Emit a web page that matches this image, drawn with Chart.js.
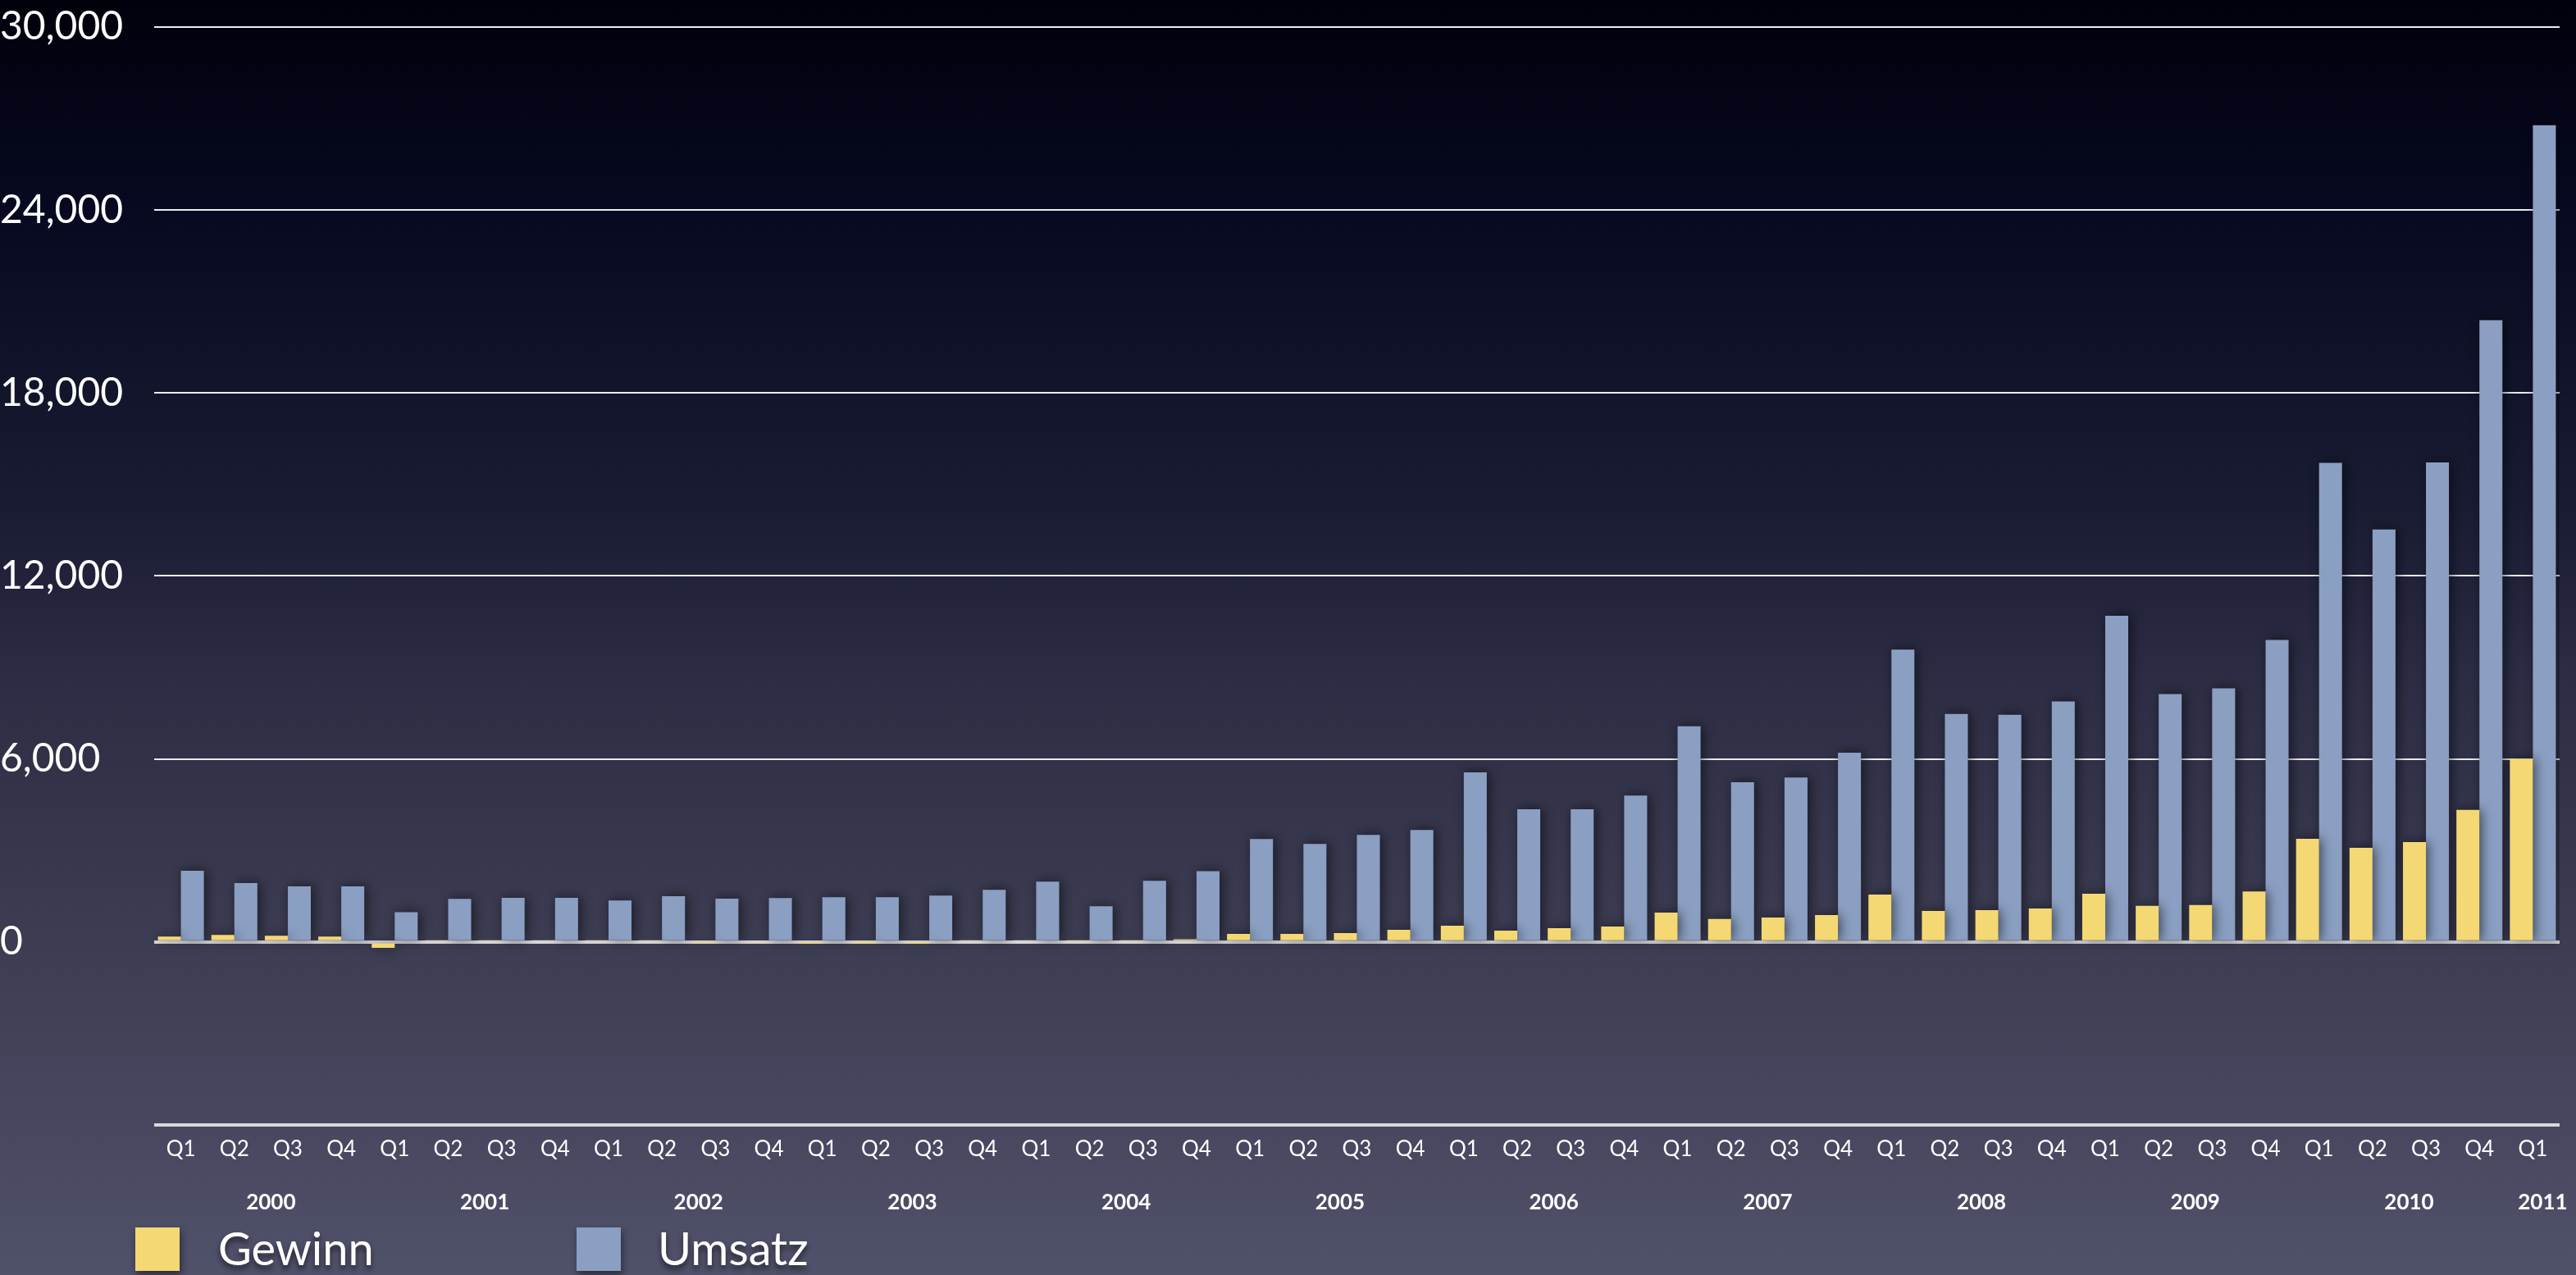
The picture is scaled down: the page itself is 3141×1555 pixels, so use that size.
<!DOCTYPE html>
<html>
<head>
<meta charset="utf-8">
<script src="https://cdn.jsdelivr.net/npm/chart.js@4.4.1/dist/chart.umd.min.js"></script>
<style>
  html, body {
    margin: 0;
    padding: 0;
    overflow: hidden;
  }
  body {
    width: 3141px;
    height: 1555px;
    background: linear-gradient(to bottom, #01010c 0%, #070920 16%, #1a1c33 40%, #2c2c44 53%, #3a3a50 71%, #50516a 100%);
    font-family: Lato, "Open Sans", sans-serif;
    position: relative;
  }
  #wrap {
    position: absolute;
    left: 0;
    top: 0;
    width: 3141px;
    height: 1555px;
  }
  .swatch {
    position: absolute;
    width: 54px;
    height: 53px;
    top: 1497px;
    box-shadow: 2px 5px 8px rgba(0, 0, 0, 0.45);
  }
  .legtext {
    position: absolute;
    top: 1488px;
    font-size: 56px;
    color: #ffffff;
    text-shadow: 0 5px 6px rgba(0, 0, 0, 0.55);
  }
</style>
</head>
<body>
<div id="wrap">
  <canvas id="chart" width="3141" height="1555"></canvas>
</div>
<div class="swatch" style="left:165px;background:#f4d873"></div>
<div class="legtext" style="left:266px">Gewinn</div>
<div class="swatch" style="left:703px;background:#8a9fc2"></div>
<div class="legtext" style="left:802px">Umsatz</div>
<script>
  // quarters 2000 Q1 .. 2011 Q1
  const quarterLabels = [
    "Q1", "Q2", "Q3", "Q4",
    "Q1", "Q2", "Q3", "Q4",
    "Q1", "Q2", "Q3", "Q4",
    "Q1", "Q2", "Q3", "Q4",
    "Q1", "Q2", "Q3", "Q4",
    "Q1", "Q2", "Q3", "Q4",
    "Q1", "Q2", "Q3", "Q4",
    "Q1", "Q2", "Q3", "Q4",
    "Q1", "Q2", "Q3", "Q4",
    "Q1", "Q2", "Q3", "Q4",
    "Q1", "Q2", "Q3", "Q4",
    "Q1",
  ];
  const yearLabels = [
    "2000", "2001", "2002", "2003", "2004", "2005",
    "2006", "2007", "2008", "2009", "2010", "2011",
  ];
  const gewinn = [
    170, 224, 197, 170,
    -200, 35, 40, 55,
    35, 35, -20, -45,
    -25, -15, -15, 40,
    55, 30, 30, 85,
    262, 262, 289, 397,
    532, 370, 451, 505,
    957, 749, 795, 876,
    1551, 1014, 1041, 1095,
    1579, 1178, 1206, 1650,
    3379, 3081, 3270, 4325,
    6001,
  ];
  const umsatz = [
    2333, 1927, 1819, 1819,
    975, 1410, 1441, 1441,
    1355, 1495, 1414, 1437,
    1464, 1460, 1514, 1703,
    1973, 1165, 2000, 2320,
    3371, 3209, 3506, 3668,
    5560, 4344, 4344, 4800,
    7071, 5233, 5390, 6203,
    9585, 7474, 7447, 7885,
    10690, 8123, 8314, 9901,
    15705, 13523, 15723, 20389,
    26778,
  ];
  const yTicks = [0, 6000, 12000, 18000, 24000, 30000];

  const fontFamily = "Lato, 'Open Sans', sans-serif";

  // bold year captions under each group of quarters
  const yearCaptions = {
    id: "yearCaptions",
    afterDraw(chart) {
      const ctx = chart.ctx;
      const xScale = chart.scales.x;
      ctx.save();
      ctx.font = "bold 26px " + fontFamily;
      ctx.fillStyle = "#ffffff";
      ctx.textAlign = "center";
      ctx.textBaseline = "middle";
      yearLabels.forEach((year, y) => {
        let sum = 0;
        let n = 0;
        for (let i = y * 4; i < Math.min(y * 4 + 4, quarterLabels.length); i++) {
          sum += xScale.getPixelForValue(i);
          n++;
        }
        if (n > 0) {
          ctx.fillText(year, sum / n + 12, 1467);
        }
      });
      ctx.restore();
    },
  };

  // soft drop shadow behind the bars
  const barShadow = {
    id: "barShadow",
    beforeDatasetsDraw(chart) {
      const ctx = chart.ctx;
      ctx.save();
      ctx.shadowColor = "rgba(0, 0, 0, 0.55)";
      ctx.shadowBlur = 14;
      ctx.shadowOffsetX = 3;
      ctx.shadowOffsetY = 0;
    },
    afterDatasetsDraw(chart) {
      chart.ctx.restore();
    },
  };

  const config = {
    type: "bar",
    data: {
      labels: quarterLabels,
      datasets: [
        {
          label: "Gewinn",
          data: gewinn,
          backgroundColor: "#f4d873",
          borderWidth: 0,
        },
        {
          label: "Umsatz",
          data: umsatz,
          backgroundColor: "#8a9fc2",
          borderWidth: 0,
        },
      ],
    },
    options: {
      responsive: false,
      animation: false,
      devicePixelRatio: 1,
      categoryPercentage: 0.86,
      barPercentage: 1.0,
      layout: {
        padding: { top: 33, right: 20, bottom: 124, left: 0 },
      },
      plugins: {
        legend: { display: false },
        tooltip: { enabled: false },
      },
      scales: {
        x: {
          grid: { display: false, drawTicks: false },
          border: { display: false },
          ticks: {
            color: "#ffffff",
            padding: 14,
            autoSkip: false,
            maxRotation: 0,
            font: { family: fontFamily, size: 26 },
          },
        },
        y: {
          min: -6000,
          max: 30000,
          afterBuildTicks(axis) {
            axis.ticks = [-6000].concat(yTicks).map((v) => ({ value: v }));
          },
          afterFit(axis) {
            axis.width = 188;
          },
          grid: {
            color: (c) => (c.tick && c.tick.value <= 0 ? "#d8d8dc" : "#ececf0"),
            lineWidth: (c) => (c.tick && c.tick.value <= 0 ? 4 : 2),
            drawTicks: false,
          },
          border: { display: false },
          ticks: {
            color: "#ffffff",
            padding: 0,
            crossAlign: "far",
            font: { family: fontFamily, size: 48 },
            callback: (v) => (v < 0 ? "" : v.toLocaleString("en-US")),
          },
        },
      },
    },
    plugins: [barShadow, yearCaptions],
  };

  new Chart(document.getElementById("chart"), config);
</script>
</body>
</html>
